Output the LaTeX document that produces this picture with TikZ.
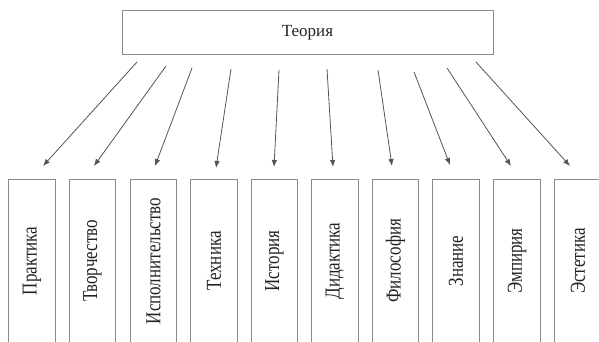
\documentclass[tikz,border=0pt]{standalone}
\usepackage{fontspec}
\setmainfont{Liberation Serif}
\usetikzlibrary{arrows.meta}
\definecolor{boxgray}{HTML}{8A8A8A}
\definecolor{arrgray}{HTML}{555555}
\definecolor{txt}{HTML}{222222}
\begin{document}
\begin{tikzpicture}[x=1pt,y=-1pt,
  topbox/.style={draw=boxgray,line width=1pt,minimum width=371pt,minimum height=44pt,inner sep=0pt,
    font=\fontsize{17}{19}\selectfont,text=txt},
  colbox/.style={minimum width=46pt,minimum height=162pt,inner sep=0pt,
    font=\fontsize{17}{19}\selectfont,text=txt},
  colline/.style={draw=boxgray,line width=1pt},
  arr/.style={draw=arrgray,line width=0.8pt,-{Latex[length=7pt,width=5.5pt]}}]
\useasboundingbox (0,0) rectangle (599,342);
\clip (0,0) rectangle (599,342);
\node[topbox] (top) at (307.5,33) {Теория};
\foreach \i/\x/\t in {1/32/Практика,2/92.5/Творчество,3/153.5/Исполнительство,4/214/Техника,5/274.5/История,6/335/Дидактика,7/395.5/Философия,8/456/Знание,9/517/Эмпирия,10/578/Эстетика}{
  \node[colbox] (b\i) at (\x,261) {\rotatebox{90}{\scalebox{1}[1.25]{\t}}};
  \draw[colline] (b\i.south west) |- (b\i.north east) -- (b\i.south east);
}
\foreach \i/\sx/\sy/\ex/\ey in {1/137/62/43/166,2/166/66/94/166,3/192/68/155/166,4/231/69/216/168,5/279/70/274/167,6/327/69/333/167,7/378/70/392/166,8/414/72/450/165,9/447/68/511/166,10/476/62/570/166}{
  \coordinate (s\i) at (\sx,\sy);
  \coordinate (e\i) at (\ex,\ey);
  \draw[arr] (s\i) -- (e\i);
}
\end{tikzpicture}
\end{document}
